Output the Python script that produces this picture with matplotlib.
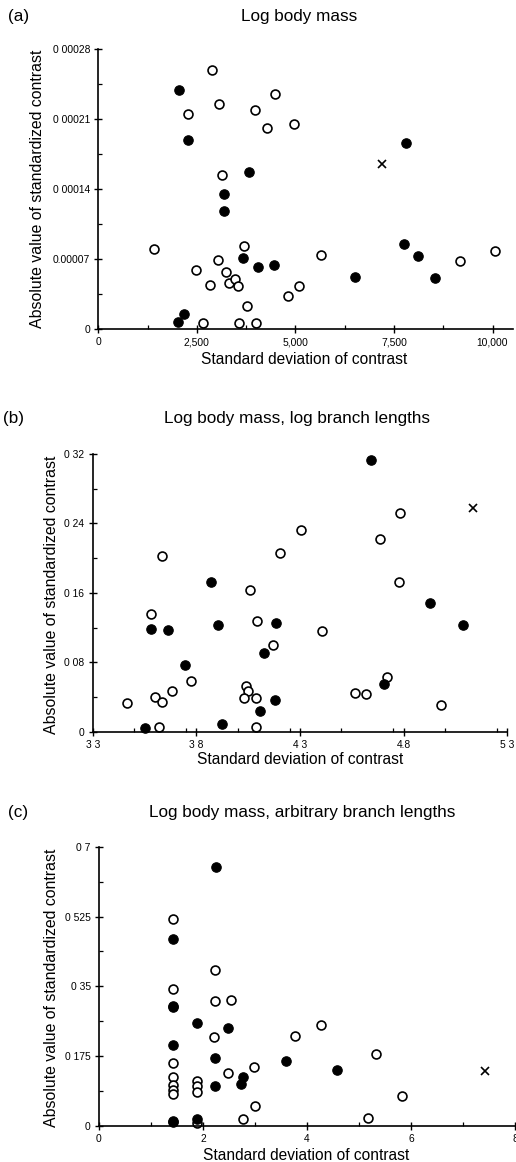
import matplotlib
matplotlib.use("Agg")
import matplotlib.pyplot as plt
from matplotlib.ticker import FixedLocator, FixedFormatter, MultipleLocator

plt.rcParams['font.family'] = ['Liberation Sans', 'DejaVu Sans']

# ---------------- data: panel (a) ----------------
a_open_x = [2872, 2280, 3057, 4493, 3970, 4291, 4966, 3150, 1419, 3708, 3049, 2475, 3252,
            2846, 3319, 3471, 3539, 3767, 4814, 5101, 5659, 9181, 10068, 2652, 3573, 4003]
a_open_y = [0.000259, 0.0002157, 0.000225, 0.000235, 0.000219, 0.0002017, 0.0002057, 0.000154,
            0.0000797, 0.0000827, 0.000069, 0.000059, 0.0000573, 0.0000437, 0.0000463, 0.0000503,
            0.0000433, 0.0000233, 0.000033, 0.000043, 0.0000743, 0.0000677, 0.0000777,
            0.0000063, 0.0000057, 0.0000063]
a_fill_x = [2044, 2272, 3826, 3201, 3201, 3674, 4063, 4468, 6504, 7753, 7813, 8108, 8539, 2179, 2010]
a_fill_y = [0.000239, 0.000189, 0.000157, 0.0001353, 0.0001183, 0.0000707, 0.0000617, 0.000064,
            0.0000517, 0.000085, 0.0001857, 0.000073, 0.0000513, 0.000015, 0.0000067]
a_cross_x = [7204]
a_cross_y = [0.0001647]
a_xticks = [0, 2500, 5000, 7500, 10000]
a_xticklabels = ["0", "2,500", "5,000", "7,500", "10,000"]
a_yticks = [0, 0.00007, 0.00014, 0.00021, 0.00028]
a_yticklabels = ["0", "0.00007", "0 00014", "0 00021", "0 00028"]

# ---------------- data: panel (b) ----------------
b_open_x = [3.467, 3.580, 3.636, 3.602, 3.636, 3.684, 3.774, 3.622, 4.057, 4.094, 4.040, 4.051,
            4.030, 4.086, 4.086, 4.170, 4.205, 4.305, 4.404, 4.565, 4.618, 4.687, 4.718, 4.782,
            4.779, 4.980]
b_open_y = [0.0327, 0.1356, 0.2024, 0.0403, 0.0346, 0.0469, 0.0584, 0.0058, 0.1633, 0.1275,
            0.0526, 0.0465, 0.0392, 0.0384, 0.0050, 0.1003, 0.2055, 0.2328, 0.1160, 0.0446,
            0.0430, 0.2220, 0.0630, 0.2524, 0.1721, 0.0311]
b_fill_x = [3.552, 3.580, 3.663, 3.745, 3.869, 3.906, 3.924, 4.107, 4.125, 4.184, 4.179, 4.644,
            4.704, 4.925, 5.085]
b_fill_y = [0.0038, 0.1183, 0.1176, 0.0768, 0.1721, 0.1233, 0.0088, 0.0234, 0.0907, 0.1256,
            0.0365, 0.3135, 0.0545, 0.1487, 0.1229]
b_cross_x = [5.133]
b_cross_y = [0.2581]
b_xticks = [3.3, 3.8, 4.3, 4.8, 5.3]
b_xticklabels = ["3 3", "3 8", "4 3", "4.8", "5 3"]
b_yticks = [0, 0.08, 0.16, 0.24, 0.32]
b_yticklabels = ["0", "0 08", "0 16", "0 24", "0 32"]

# ---------------- data: panel (c) ----------------
c_open_x = [1.417, 1.417, 1.417, 1.417, 1.417, 1.417, 1.417, 1.885, 1.885, 1.885, 1.885,
            2.224, 2.224, 2.532, 2.212, 2.478, 2.974, 2.995, 2.769, 3.769, 4.276, 5.333,
            5.827, 5.179]
c_open_y = [0.520, 0.3425, 0.158, 0.122, 0.103, 0.090, 0.080, 0.113, 0.100, 0.084, 0.008,
            0.392, 0.313, 0.315, 0.222, 0.133, 0.148, 0.050, 0.018, 0.2255, 0.2523, 0.1813,
            0.0752, 0.0209]
c_fill_x = [2.244, 1.423, 1.423, 1.423, 1.885, 2.484, 1.423, 2.224, 3.590, 4.583, 2.776,
            2.724, 2.224, 1.423, 1.885, 1.423]
c_fill_y = [0.650, 0.469, 0.302, 0.297, 0.257, 0.2456, 0.204, 0.171, 0.1629, 0.1395, 0.122,
            0.1044, 0.1015, 0.0134, 0.0185, 0.010]
c_cross_x = [7.429]
c_cross_y = [0.1387]
c_xticks = [0, 2, 4, 6, 8]
c_xticklabels = ["0", "2", "4", "6", "8"]
c_yticks = [0, 0.175, 0.35, 0.525, 0.7]
c_yticklabels = ["0", "0 175", "0 35", "0 525", "0 7"]

titles = ["Log body mass", "Log body mass, log branch lengths",
          "Log body mass, arbitrary branch lengths"]
panel_tags = ["(a)", "(b)", "(c)"]
xlabel = "Standard deviation of contrast"
ylabel = "Absolute value of standardized contrast"

W, H = 516, 1162
fig = plt.figure(figsize=(W / 100, H / 100), dpi=100)


def px(x0, y_top, x1, y_bot):
    return [x0 / W, 1 - y_bot / H, (x1 - x0) / W, (y_bot - y_top) / H]


def draw(rect, ox, oy, fx, fy, cx, cy, xlim, ylim, xt, xtl, yt, ytl, xminor, yminor):
    ax = fig.add_axes(rect)
    ax.plot(ox, oy, 'o', ms=6.4, mfc='white', mec='black', mew=1.2, ls='none', clip_on=False)
    ax.plot(fx, fy, 'o', ms=6.8, mfc='black', mec='black', mew=0.8, ls='none', clip_on=False)
    ax.plot(cx, cy, 'x', ms=5.5, color='black', mew=1.2, ls='none', clip_on=False)
    ax.set_xlim(*xlim)
    ax.set_ylim(*ylim)
    for s in ['top', 'right']:
        ax.spines[s].set_visible(False)
    for s in ['left', 'bottom']:
        ax.spines[s].set_linewidth(1.2)
    ax.xaxis.set_major_locator(FixedLocator(xt))
    ax.xaxis.set_major_formatter(FixedFormatter(xtl))
    ax.yaxis.set_major_locator(FixedLocator(yt))
    ax.yaxis.set_major_formatter(FixedFormatter(ytl))
    ax.xaxis.set_minor_locator(MultipleLocator(xminor))
    ax.yaxis.set_minor_locator(MultipleLocator(yminor))
    ax.tick_params(which='major', direction='inout', length=6, width=1.0, labelsize=7.4, pad=3)
    ax.tick_params(which='minor', direction='in', length=3, width=0.9)
    ax.patch.set_alpha(0)
    return ax


draw(px(98.3, 49.3, 513, 329), a_open_x, a_open_y, a_fill_x, a_fill_y, a_cross_x, a_cross_y,
     (0, 10520), (0, 0.00028), a_xticks, a_xticklabels, a_yticks, a_yticklabels, 1250, 0.000035)
draw(px(92.7, 454, 507.3, 731.7), b_open_x, b_open_y, b_fill_x, b_fill_y, b_cross_x, b_cross_y,
     (3.3, 5.3), (0, 0.32), b_xticks, b_xticklabels, b_yticks, b_yticklabels, 0.25, 0.04)
draw(px(99, 846.7, 515, 1126), c_open_x, c_open_y, c_fill_x, c_fill_y, c_cross_x, c_cross_y,
     (0, 8), (0, 0.7), c_xticks, c_xticklabels, c_yticks, c_yticklabels, 1, 0.0875)

# titles, tags, axis labels
title_pos = [(299, 16.5), (297, 419), (302, 813)]
tag_pos = [(8, 16.5), (3, 419), (8, 813)]
xlab_pos = [(304, 359), (300, 760), (306, 1155)]
ylab_pos = [(38, 189), (52, 595), (52, 988)]
for i in range(3):
    fig.text(title_pos[i][0] / W, 1 - title_pos[i][1] / H, titles[i], ha='center', va='center',
             fontsize=12.3)
    fig.text(tag_pos[i][0] / W, 1 - tag_pos[i][1] / H, panel_tags[i], ha='left', va='center',
             fontsize=12.3)
    fig.text(xlab_pos[i][0] / W, 1 - xlab_pos[i][1] / H, xlabel, ha='center', va='center',
             fontsize=11.2)
    fig.text(ylab_pos[i][0] / W, 1 - ylab_pos[i][1] / H, ylabel, ha='center', va='center',
             fontsize=11.4, rotation=90)

fig.savefig("out.png", dpi=100)
